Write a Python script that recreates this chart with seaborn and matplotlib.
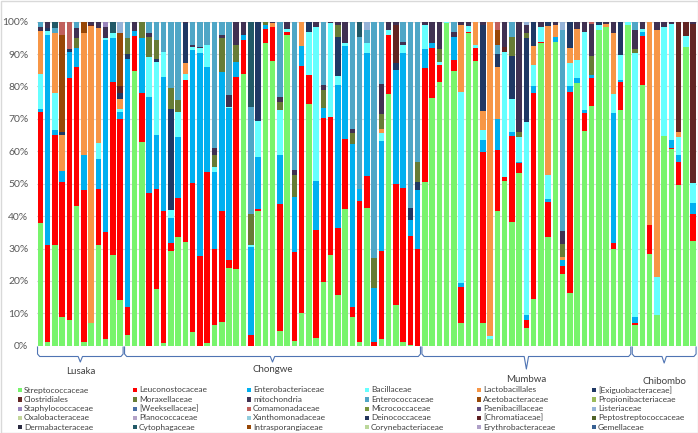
import numpy as np
import pandas as pd
import matplotlib
matplotlib.use("Agg")
import matplotlib.pyplot as plt
from matplotlib.patches import Rectangle
import matplotlib.transforms as mtransforms
import seaborn as sns

# --- data -------------------------------------------------------------
groups = ["Lusaka", "Chongwe", "Mumbwa", "Chibombo"]
group_sizes = [12, 41, 29, 9]
n_bars = sum(group_sizes)

categories = [
    "Streptococcaceae", "Leuconostocaceae", "Enterobacteriaceae", "Bacillaceae", "Lactobacillales", "[Exiguobacteraceae]",
    "Clostridiales", "Moraxellaceae", "mitochondria", "Enterococcaceae", "Acetobacteraceae", "Propionibacteriaceae",
    "Staphylococcaceae", "[Weeksellaceae]", "Comamonadaceae", "Micrococcaceae", "Paenibacillaceae", "Listeriaceae",
    "Oxalobacteraceae", "Planococcaceae", "Xanthomonadaceae", "Deinococcaceae", "[Chromatiaceae]", "Peptostreptococcaceae",
    "Dermabacteraceae", "Cytophagaceae", "Intrasporangiaceae", "Corynebacteriaceae", "Erythrobacteraceae", "Gemellaceae",
]
colors = [
    "#78F46C", "#FF0000", "#00B0F0", "#66FFFF", "#F79646", "#1F3864",
    "#632523", "#677C35", "#403152", "#4FA6C6", "#984807", "#9BBB59",
    "#9A85BD", "#4A6FA5", "#C0605C", "#77933C", "#604A7B", "#95B3D7",
    "#C3D69B", "#B3A2C7", "#93CDDD", "#24365C", "#5C1F22", "#4F6228",
    "#2A2A40", "#215967", "#974706", "#BBD79A", "#AFA0C8", "#376092",
]

# relative abundance (%) per sample, samples 1..91
streptococcaceae = [
    38, 1, 31, 9, 8, 43, 1, 7, 31, 2, 28, 14,
    3.3, 84.9, 63, 0, 17.5, 0.7, 29.3, 33.4, 32.1, 4.1, 0, 0.7, 6.4, 7.2, 24.1, 23.7, 84, 0,
    41.7, 93.3, 87.9, 4.5, 95.9, 1.5, 10.2, 74.6, 2.3, 19.8, 28, 15.6, 42.1, 9, 1, 42.6, 0, 2,
    77.7, 12.6, 1, 0.2, 0,
    50.6, 76.6, 81.5, 99.5, 84.8, 6.9, 96.4, 87.9, 6.9, 2, 41.7, 50.8, 38.3, 53.2, 5.6, 14.3,
    93.5, 33.4, 93.8, 22.1, 16.4, 81, 66.4, 74, 97.4, 98.3, 30, 72.7, 99,
    6.4, 80.5, 28.3, 9.5, 64.7, 60.6, 49.6, 92.3, 32.4,
]
leuconostocaceae = [
    34, 30, 34, 41.5, 74.5, 43, 47, 0, 17.5, 33, 53.5, 56,
    8.5, 10.7, 14.9, 47.2, 30.9, 41, 2.3, 12.1, 49.9, 46.2, 27.7, 53, 23.6, 34.5, 2.3, 59.3, 10.3, 3.3,
    0.4, 4.6, 10.6, 39.2, 1, 27.3, 76.1, 8.9, 33.4, 50.6, 42.7, 20.6, 21.6, 2.8, 43.7, 9.8, 1, 27.2,
    18.2, 37.3, 47.8, 33.6, 29.7,
    35, 15.4, 5.1, 0, 3.4, 11.1, 0.5, 4.1, 53, 0, 18.7, 1.2, 26.4, 3.3, 2.3, 63.6,
    0.3, 11, 0, 2.5, 62, 0, 5.5, 8.5, 0, 0, 1.8, 8.8, 0,
    0.5, 15.1, 8.9, 0, 0, 0.3, 7.2, 0, 8.4,
]
enterobacteriaceae = [
    1, 65, 1.5, 3.5, 8, 6, 11, 0, 9, 59.5, 13.5, 2,
    76.6, 1.4, 17, 29.7, 16.6, 41.1, 7.7, 18.8, 0, 41, 62.5, 32.4, 23.7, 42.9, 46.9, 4.7, 1.6, 27.3,
    16.2, 1, 0, 15.1, 0, 17.2, 6.2, 0, 15.1, 2.9, 0, 44.3, 28.8, 50.4, 3.6, 37.8, 16.7, 34,
    0, 35.2, 41.4, 5, 18.3,
    5.9, 1.5, 0, 0, 7.2, 1.2, 0, 0, 3.6, 0, 9.5, 0, 1.3, 0.3, 1.6, 2.2,
    0, 0.8, 1.4, 1.8, 1.7, 1.5, 0.8, 1, 0, 0, 39.9, 0.5, 0,
    2.1, 1.3, 0, 0, 0, 2.6, 2, 0, 3.1,
]
bacillaceae = [
    11, 1, 11.5, 0, 0, 0, 0, 0, 5, 0.5, 1.5, 1,
    0, 0, 0, 12.3, 22.6, 7.9, 2.6, 7.9, 1.9, 1, 1.6, 6.7, 1.5, 0, 0.5, 0, 0, 0.4,
    11.1, 0, 0, 13.9, 1, 0, 0, 13.4, 47.7, 0, 29, 2.7, 0.8, 0, 0, 3.1, 0, 2.3,
    1.5, 0, 2.6, 0, 0,
    7.5, 0, 1, 0.5, 0, 59.2, 1.8, 0.8, 3.1, 1, 0, 38.7, 10, 7.7, 59.6, 6.5,
    4.7, 7.5, 0, 0, 7.2, 5.7, 24.2, 0, 1.6, 0, 6, 7.7, 1,
    81.2, 1, 0, 11.6, 33.8, 35.8, 5.7, 3.3, 6.2,
]
# sparse families: {sample number: %}
lactobacillales = {1: 13, 3: 18.5, 4: 11, 7: 37.5, 8: 91.7, 9: 35.5, 12: 3, 21: 3.5, 33: 1.2, 37: 7.5,
                   48: 1.5, 59: 20.6, 61: 7.2, 62: 5.9, 63: 97, 64: 16, 69: 5.9, 71: 46, 72: 3.8, 73: 1,
                   74: 4.7, 75: 9.7, 79: 1, 80: 18.7, 85: 62.8, 86: 76.3, 89: 1.5}
exiguobacteraceae = {2: 1, 4: 1, 5: 1, 12: 2, 13: 1.7, 17: 1, 19: 31.1, 21: 12.1, 31: 30.6, 38: 3.1,
                     42: 12, 50: 2, 52: 3.6, 53: 2.5, 62: 26.5, 64: 4.1, 66: 13.5, 68: 25.8, 69: 7.5,
                     71: 1.3, 74: 8, 78: 1, 81: 10.3}
clostridiales = {8: 0.3, 12: 2, 50: 11.9, 65: 1.5, 89: 34, 90: 4.4, 91: 49.2}
moraxellaceae = {6: 3, 13: 5, 15: 5.1, 16: 6.2, 17: 5.7, 19: 6.6, 20: 3.6, 25: 3.6, 26: 10.3, 28: 5.1,
                 30: 9.8, 32: 1.1, 34: 2.6, 36: 6.7, 40: 5.7, 42: 3.8, 44: 3.3, 47: 9.3, 48: 4.6,
                 53: 6.2, 56: 4.1, 66: 5.7, 67: 1.5, 68: 1.5, 73: 3.9, 77: 5.9, 83: 1.5}
mitochondria = {1: 1.5, 2: 2, 6: 3, 8: 1, 9: 2, 10: 3.5, 14: 3, 16: 1, 21: 0.5, 22: 0.5, 23: 0.5,
                25: 2.1, 26: 1, 27: 3.6, 28: 7.2, 29: 4.1, 33: 0.3, 34: 1.5, 35: 2.1, 36: 1.5, 39: 1.5,
                40: 1.5, 41: 0.3, 42: 1, 43: 6.7, 44: 1.5, 48: 9.3, 49: 2.6, 50: 1, 51: 1, 54: 1,
                55: 6.5, 56: 8.3, 58: 1.5, 59: 1, 60: 1.3, 62: 1, 65: 7.8, 67: 34, 68: 2.5, 70: 1.5,
                72: 1, 73: 4.1, 75: 2.1, 76: 3.1, 77: 9.9, 79: 0.7, 80: 3.6, 83: 5.7, 84: 2.1,
                86: 2.6, 87: 1.5, 88: 0.7, 91: 0.7}
enterococcaceae = {1: 1.5, 3: 1.5, 6: 2, 13: 4.9, 16: 3.6, 17: 5.7, 18: 9.3, 19: 20.4, 20: 24.2,
                   22: 7.2, 23: 7.7, 24: 7.2, 25: 39.1, 26: 4.1, 27: 22.6, 30: 33, 34: 23.2, 36: 45.8,
                   40: 19.5, 44: 33, 45: 47.1, 46: 4.1, 47: 73, 48: 19.1, 51: 6.2, 52: 57.6, 53: 43.3,
                   58: 3.1, 64: 2.8, 66: 4.8, 73: 62, 83: 2.6}
acetobacteraceae = {4: 30, 7: 3.5, 12: 16.5, 64: 4.6}
staphylococcaceae = {10: 1.5}
comamonadaceae = {4: 4, 5: 8.5, 64: 2.6, 77: 0.7}
listeriaceae = {12: 3.5, 46: 2.6, 68: 1.1, 73: 2.6}
cytophagaceae = {3: 2, 11: 3.5, 30: 26.2, 45: 4.6}

values = {
    "Streptococcaceae": streptococcaceae,
    "Leuconostocaceae": leuconostocaceae,
    "Enterobacteriaceae": enterobacteriaceae,
    "Bacillaceae": bacillaceae,
    "Lactobacillales": lactobacillales,
    "[Exiguobacteraceae]": exiguobacteraceae,
    "Clostridiales": clostridiales,
    "Moraxellaceae": moraxellaceae,
    "mitochondria": mitochondria,
    "Enterococcaceae": enterococcaceae,
    "Acetobacteraceae": acetobacteraceae,
    "Staphylococcaceae": staphylococcaceae,
    "Comamonadaceae": comamonadaceae,
    "Listeriaceae": listeriaceae,
    "Cytophagaceae": cytophagaceae,
}

# --- table ------------------------------------------------------------
samples = np.arange(1, n_bars + 1)
df = pd.DataFrame(0.0, index=samples, columns=categories)
for cat, v in values.items():
    if isinstance(v, dict):
        for k, val in v.items():
            df.loc[k, cat] = val
    else:
        df[cat] = v
df = df.div(df.sum(axis=1), axis=0) * 100   # 100% stacked
long = (df.rename_axis("sample").reset_index()
          .melt(id_vars="sample", var_name="family", value_name="pct"))
long = long[long["pct"] > 0]

# --- figure -----------------------------------------------------------
W, H = 698, 433
fig = plt.figure(figsize=(W / 100, H / 100), dpi=100)
ax = fig.add_axes([36.8 / W, (H - 345.7) / H, 660 / W, 324 / H])
ax.set_axisbelow(True)

# seaborn stacks the first hue level on top -> pass the order reversed
sns.histplot(data=long, x="sample", weights="pct", hue="family",
             hue_order=categories[::-1], palette=colors[::-1],
             multiple="stack", discrete=True, shrink=0.76,
             linewidth=0, alpha=1, legend=False, ax=ax)

ax.set_xlim(0.5, n_bars + 0.5)
ax.set_ylim(0, 100)
ax.set_yticks(np.arange(0, 101, 10))
ax.set_yticklabels([f"{t}%" for t in range(0, 101, 10)], fontsize=7.5,
                   color="#595959", family="Lato")
ax.tick_params(axis="y", length=0, pad=6)
ax.set_xticks([])
ax.set_xlabel("")
ax.set_ylabel("")
ax.yaxis.grid(True, color="#D9D9D9", lw=0.8)
for s in ax.spines.values():
    s.set_visible(False)

# group braces under the bars
trans = mtransforms.blended_transform_factory(ax.transData, fig.transFigure)
tip_px = [362, 362, 369, 363]
label_px = [371, 370, 380, 382]
start = 1
for g, n, tp, lp in zip(groups, group_sizes, tip_px, label_px):
    x0, x1 = start - 0.4, start + n - 1 + 0.4
    xm = (x0 + x1) / 2
    ys = [347, 354, 356.5, 356.5, tp, 356.5, 356.5, 354, 347]
    xs = [x0, x0, x0 + 0.3, xm - 0.3, xm, xm + 0.3, x1 - 0.3, x1, x1]
    ax.plot(xs, [1 - y / H for y in ys], transform=trans, clip_on=False,
            color="#4F74B3", lw=0.8)
    ax.text(xm, 1 - lp / H, g, transform=trans, ha="center", va="center",
            fontsize=7, color="#404040", family="Lato")
    start += n

# legend, 6 columns x 5 rows as in the reference
col_x = [18, 133, 247, 365, 477, 592]
row_y = [390, 399.3, 408.6, 417.9, 427.2]
for i, (cat, col) in enumerate(zip(categories, colors)):
    x = col_x[i % 6]
    y = row_y[i // 6]
    fig.patches.append(Rectangle((x / W, 1 - (y + 2.2) / H), 4.2 / W, 4.2 / H,
                                 transform=fig.transFigure, facecolor=col,
                                 edgecolor="none"))
    fig.text((x + 6) / W, 1 - y / H, cat, ha="left", va="center",
             fontsize=6, color="#404040", family="Lato")

fig.patches.append(Rectangle((0.5 / W, 0.5 / H), 1 - 1 / W, 1 - 1 / H,
                             transform=fig.transFigure, facecolor="none",
                             edgecolor="#D9D9D9", lw=1))

fig.savefig("out.png", dpi=100)
